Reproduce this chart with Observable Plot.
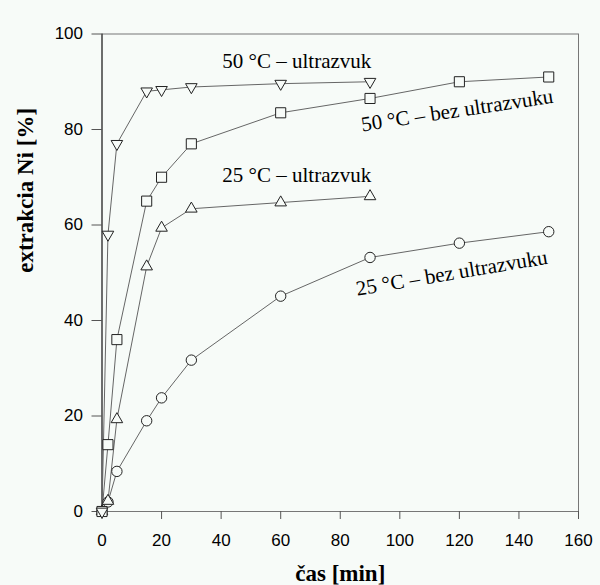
<!DOCTYPE html>
<html>
<head>
<meta charset="utf-8">
<script src="https://cdn.jsdelivr.net/npm/d3@7"></script>
<script src="https://cdn.jsdelivr.net/npm/@observablehq/plot@0.6"></script>
<style>
  html, body { margin: 0; padding: 0; background: #f7fbf8; }
</style>
</head>
<body>
<div id="chart"></div>
<script>
// time [min]
const t50u = [0, 2, 5, 15, 20, 30, 60, 90];
const e50u = [0, 58, 77, 88, 88.3, 88.9, 89.6, 90];
const t50 = [0, 2, 5, 15, 20, 30, 60, 90, 120, 150];
const e50 = [0, 14, 36, 65, 70, 77, 83.5, 86.5, 90, 91];
const t25u = [0, 2, 5, 15, 20, 30, 60, 90];
const e25u = [0, 2.2, 19.3, 51.3, 59.4, 63.4, 64.7, 66];
const t25 = [0, 2, 5, 15, 20, 30, 60, 90, 120, 150];
const e25 = [0, 2, 8.4, 19, 23.8, 31.7, 45.1, 53.2, 56.2, 58.6];

const xTicks = [0, 20, 40, 60, 80, 100, 120, 140, 160];
const yTicks = [0, 20, 40, 60, 80, 100];

const labels = ["50 °C – ultrazvuk", "25 °C – ultrazvuk", "50 °C – bez ultrazvuku", "25 °C – bez ultrazvuku"];
const labelX = [40.4, 40.4, 87.4, 85.7];
const labelY = [92.8, 69, 79.6, 45.2];
const labelRot = [0, 0, -8.5, -9.5];

const bg = "#f7fbf8";
const triangleDown = {
  draw(context, size) {
    const y = -Math.sqrt(size / (Math.sqrt(3) * 3));
    context.moveTo(0, -y * 2);
    context.lineTo(-Math.sqrt(3) * y, y);
    context.lineTo(Math.sqrt(3) * y, y);
    context.closePath();
  }
};

const toRows = (ts, es) => ts.map((t, i) => ({t, e: es[i]}));
const s50u = toRows(t50u, e50u);
const s50 = toRows(t50, e50);
const s25u = toRows(t25u, e25u);
const s25 = toRows(t25, e25);
const annots = labels.map((text, i) => ({text, x: labelX[i], y: labelY[i], r: labelRot[i]}));

const lineOpts = {x: "t", y: "e", stroke: "#666", strokeWidth: 1};
const dotOpts = {x: "t", y: "e", stroke: "#222", strokeWidth: 1, fill: bg};
const serif = "Liberation Serif, Times New Roman, serif";

const chart = Plot.plot({
  width: 600,
  height: 585,
  marginLeft: 101.5,
  marginRight: 22,
  marginTop: 33.5,
  marginBottom: 74,
  x: {domain: [0, 160]},
  y: {domain: [0, 100]},
  style: {background: bg, fontFamily: "Liberation Sans, Arial, sans-serif", fontSize: "17px", color: "black"},
  marks: [
    Plot.frame({stroke: "#777"}),
    Plot.axisX({ticks: xTicks, tickSize: 8, tickPadding: 14, label: null, stroke: "#555", fill: "black"}),
    Plot.axisY({ticks: yTicks, tickSize: 10, tickPadding: 9, label: null, stroke: "#555", fill: "black"}),
    Plot.ruleX([0], {stroke: "#222"}),
    Plot.line(s25, lineOpts),
    Plot.line(s25u, lineOpts),
    Plot.line(s50, lineOpts),
    Plot.line(s50u, lineOpts),
    Plot.dot(s25, {...dotOpts, symbol: "circle", r: 5.2}),
    Plot.dot(s25u, {...dotOpts, symbol: "triangle", r: 4.3}),
    Plot.dot(s50, {...dotOpts, symbol: "square", r: 5.7}),
    Plot.dot(s50u, {...dotOpts, symbol: triangleDown, r: 4.3}),
    Plot.text(annots, {x: "x", y: "y", text: "text", rotate: "r", textAnchor: "start", lineAnchor: "bottom",
      fontFamily: serif, fontSize: 21, fill: "black"}),
    Plot.text(["čas [min]"], {frameAnchor: "bottom", lineAnchor: "bottom", dy: 69,
      fontFamily: serif, fontSize: 23, fontWeight: "bold", fill: "black"}),
    Plot.text(["extrakcia Ni [%]"], {frameAnchor: "left", rotate: -90, lineAnchor: "middle", dx: -76.5, dy: 0,
      fontFamily: serif, fontSize: 23, fontWeight: "bold", fill: "black"})
  ]
});
document.getElementById("chart").appendChild(chart);
</script>
</body>
</html>
